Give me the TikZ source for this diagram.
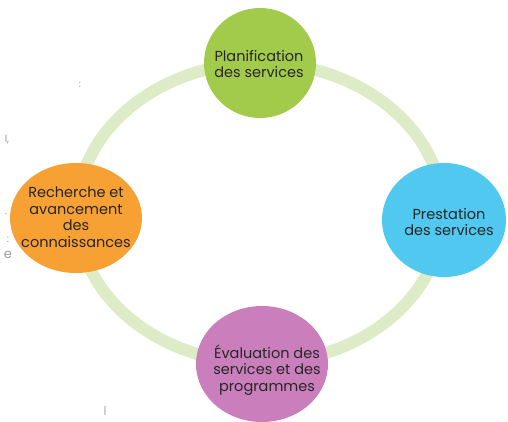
\documentclass[tikz,border=0pt]{standalone}
\usepackage{fontspec}
\setmainfont{Poppins}
\usetikzlibrary{shapes.geometric}
\definecolor{ringc}{HTML}{DDEBC7}
\definecolor{greenc}{HTML}{A3CB4B}
\definecolor{bluec}{HTML}{50C8F0}
\definecolor{orangec}{HTML}{F7A034}
\definecolor{purplec}{HTML}{CA7EBC}
\definecolor{txt}{HTML}{262626}
\definecolor{stray}{HTML}{9A9A9A}
\tikzset{
  blob/.style={ellipse, draw=none, inner sep=0pt},
  lbl/.style={align=center, text=txt, font=\fontsize{14.5}{16.5}\selectfont, inner sep=0pt},
  straymark/.style={text=stray, font=\fontsize{10}{10}\selectfont, inner sep=0pt}
}
\begin{document}
\begin{tikzpicture}[x=1pt,y=-1pt]
\useasboundingbox (0,0) rectangle (508,421);
\draw[ringc, line width=12pt] (260,213) ellipse [x radius=183, y radius=150];
\node[blob, fill=greenc, minimum width=112pt, minimum height=110pt] (plan) at (260,63) {};
\node[blob, fill=bluec, minimum width=124pt, minimum height=114pt] (prest) at (444,220) {};
\node[blob, fill=orangec, minimum width=132pt, minimum height=110pt] (rech) at (76,218) {};
\node[blob, fill=purplec, minimum width=132pt, minimum height=116pt] (eval) at (262,364) {};
\node[lbl] (tplan) at (259,64) {Planification\\des services};
\node[lbl] (tprest) at (449,222) {Prestation\\des services};
\node[lbl] (trech) at (76,217) {Recherche et\\avancement\\des\\connaissances};
\node[lbl] (teval) at (267,370) {Évaluation des\\services et des\\programmes};
\node[straymark] (m1) at (80,85) {:};
\node[straymark] (m2) at (7,140) {l,};
\node[straymark] (m3) at (6,214) {.};
\node[straymark] (m4) at (8,240) {:};
\node[straymark, font=\fontsize{13}{13}\selectfont] (m5) at (8,255) {e};
\node[straymark] (m6) at (105,411) {|};
\end{tikzpicture}
\end{document}
